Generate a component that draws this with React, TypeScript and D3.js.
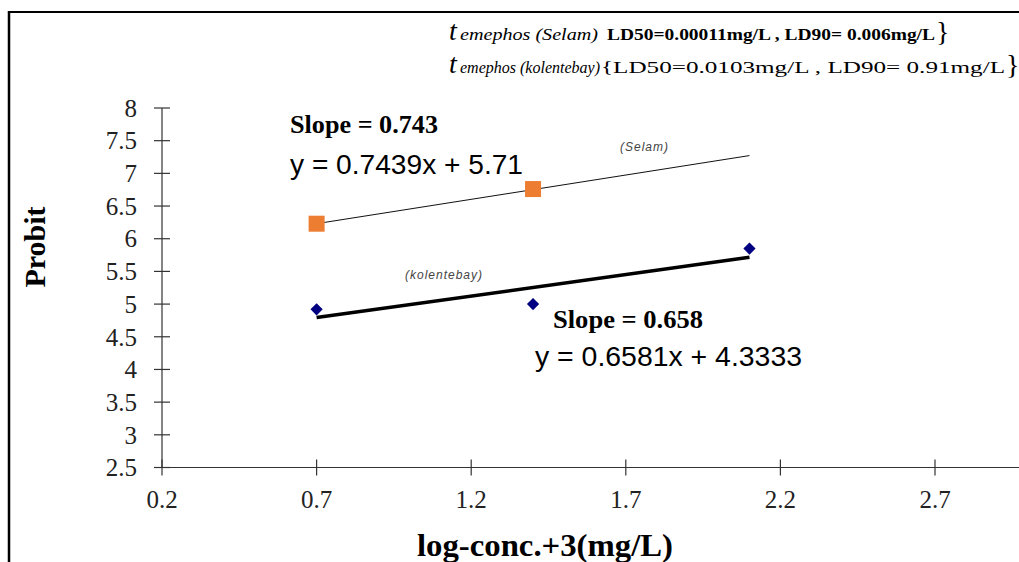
import React from "react";
import * as d3 from "d3";

const W = 1019;
const H = 562;

const xTicks = [0.2, 0.7, 1.2, 1.7, 2.2, 2.7];
const yTicks = [2.5, 3, 3.5, 4, 4.5, 5, 5.5, 6, 6.5, 7, 7.5, 8];

const selamX = [0.7, 1.4];
const selamY = [6.23, 6.76];
const kolX = [0.7, 1.4, 2.1];
const kolY = [4.92, 5.0, 5.85];

// trendline coefficients [slope, intercept] and x-extent
const selamFit = [0.7439, 5.71];
const kolFit = [0.6581, 4.3333];
const fitRange = [0.7, 2.1];

export default function App() {
  const x = d3.scaleLinear().domain([0.2, 2.7]).range([162, 935]);
  const y = d3.scaleLinear().domain([2.5, 8]).range([467.5, 108]);

  const fitPath = (fit: number[]) =>
    d3
      .line<number>()
      .x((d) => x(d))
      .y((d) => y(fit[0] * d + fit[1]))(fitRange) as string;

  const serif = "'Liberation Serif', 'Times New Roman', serif";
  const sans = "'Liberation Sans', Arial, sans-serif";
  const diamond = d3.symbol(d3.symbolDiamond2, 95)() as string;

  return (
    <svg
      width={W}
      height={H}
      style={{ position: "fixed", left: 0, top: 0, background: "#fff" }}
    >
      <rect x={0} y={0} width={W} height={H} fill="#fff" />
      {/* frame */}
      <line x1={8} y1={12} x2={W} y2={12} stroke="#000" strokeWidth={2} />
      <line x1={9} y1={11} x2={9} y2={H} stroke="#000" strokeWidth={2.5} />

      {/* header */}
      <g fontFamily={serif}>
        <text x={449} y={40} fontSize={28} fontStyle="italic">t</text>
        <text x={460} y={40} fontSize={16} fontStyle="italic" textLength={138} lengthAdjust="spacingAndGlyphs">
          emephos (Selam)
        </text>
        <text x={607} y={40} fontSize={16} fontWeight="bold" textLength={328} lengthAdjust="spacingAndGlyphs">
          LD50=0.00011mg/L , LD90= 0.006mg/L
        </text>
        <text x={936} y={41} fontSize={28}>{"}"}</text>
        <text x={449} y={73} fontSize={28} fontStyle="italic">t</text>
        <text x={460} y={73} fontSize={16} fontStyle="italic" textLength={140} lengthAdjust="spacingAndGlyphs">
          emephos (kolentebay)
        </text>
        <text x={601} y={73} fontSize={16} textLength={404} lengthAdjust="spacingAndGlyphs">
          {"{LD50=0.0103mg/L , LD90= 0.91mg/L"}
        </text>
        <text x={1006} y={74} fontSize={28}>{"}"}</text>
      </g>

      {/* axes */}
      <line x1={x(0.2)} y1={y(8)} x2={x(0.2)} y2={y(2.5)} stroke="#333" strokeWidth={1.2} />
      <line x1={x(0.2)} y1={y(2.5)} x2={W} y2={y(2.5)} stroke="#333" strokeWidth={1.2} />
      {yTicks.map((t) => (
        <g key={"y" + t}>
          <line x1={x(0.2) - 8} x2={x(0.2) + 8} y1={y(t)} y2={y(t)} stroke="#333" strokeWidth={1.2} />
          <text x={137} y={y(t)} dy="0.35em" textAnchor="end" fontFamily={serif} fontSize={25} fill="#222">
            {t}
          </text>
        </g>
      ))}
      {xTicks.map((t) => (
        <g key={"x" + t}>
          <line x1={x(t)} x2={x(t)} y1={y(2.5) - 8} y2={y(2.5) + 8} stroke="#333" strokeWidth={1.2} />
          <text x={x(t)} y={508} textAnchor="middle" fontFamily={serif} fontSize={25} fill="#222">
            {t}
          </text>
        </g>
      ))}
      <text
        transform={`translate(45,247) rotate(-90)`}
        textAnchor="middle"
        fontFamily={serif}
        fontWeight="bold"
        fontSize={30}
      >
        Probit
      </text>
      <text x={417} y={556} fontFamily={serif} fontWeight="bold" fontSize={31} textLength={256} lengthAdjust="spacingAndGlyphs">
        log-conc.+3(mg/L)
      </text>

      {/* trendlines */}
      <path d={fitPath(selamFit)} stroke="#111" strokeWidth={1} fill="none" />
      <path d={fitPath(kolFit)} stroke="#000" strokeWidth={3.5} fill="none" />

      {/* points */}
      {selamX.map((v, i) => (
        <rect key={"s" + i} x={x(v) - 8} y={y(selamY[i]) - 8} width={16} height={16} fill="#ED7D31" />
      ))}
      {kolX.map((v, i) => (
        <path key={"k" + i} d={diamond} transform={`translate(${x(v)},${y(kolY[i])})`} fill="#000080" />
      ))}

      {/* annotations */}
      <text x={290} y={133} fontFamily={serif} fontWeight="bold" fontSize={25} textLength={148} lengthAdjust="spacingAndGlyphs">Slope = 0.743</text>
      <text x={290} y={174} fontFamily={sans} fontSize={27} textLength={233} lengthAdjust="spacingAndGlyphs">y = 0.7439x + 5.71</text>
      <text x={620} y={151} fontFamily={sans} fontStyle="italic" fontSize={12} fill="#444" letterSpacing={1}>(Selam)</text>
      <text x={405} y={279} fontFamily={sans} fontStyle="italic" fontSize={12} fill="#444" letterSpacing={1}>(kolentebay)</text>
      <text x={553} y={328} fontFamily={serif} fontWeight="bold" fontSize={25} textLength={150} lengthAdjust="spacingAndGlyphs">Slope = 0.658</text>
      <text x={535} y={366} fontFamily={sans} fontSize={27} textLength={267} lengthAdjust="spacingAndGlyphs">y = 0.6581x + 4.3333</text>
    </svg>
  );
}
